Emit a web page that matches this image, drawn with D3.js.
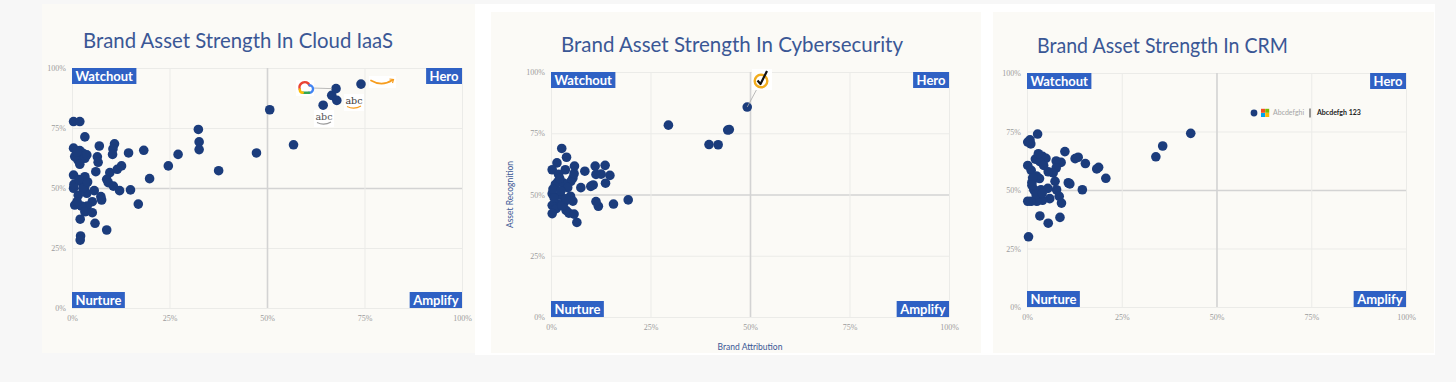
<!DOCTYPE html>
<html>
<head>
<meta charset="utf-8">
<script src="https://cdn.jsdelivr.net/npm/d3@7/dist/d3.min.js"></script>
<style>
body { margin: 0; background: #f7f7f7; }
</style>
</head>
<body>
<div id="chart"></div>
<script>
// 标题和刻度
const titles = ['Brand Asset Strength In Cloud IaaS', 'Brand Asset Strength In Cybersecurity', 'Brand Asset Strength In CRM'];
const tickValues = [0, 25, 50, 75, 100];
const tickLabels = ['0%', '25%', '50%', '75%', '100%'];
const quadrants = ['Watchout', 'Hero', 'Nurture', 'Amplify'];
const axisTitles = ['Brand Attribution', 'Asset Recognition'];
const legendTexts = ['Abcdefghi', 'Abcdefgh 123'];

// [brand attribution %, asset recognition %]
const cloudPoints = [
    [0.4, 77.7], [2, 77.7], [3.3, 71.3], [7, 67.5], [10.9, 68.4], [10.5, 66.3], [10.4, 64], [14.5, 64.6], [18.4, 65.7],
    [0.4, 66.6], [2, 65.6], [2.8, 64.5], [2.4, 63.1], [1.5, 61.7], [3.3, 62.4], [0.7, 63.1], [2, 59.9], [3.8, 63.8], [1.2, 65],
    [6.5, 63], [6.7, 60.7], [6.1, 56.8], [9.7, 56.4], [8.9, 53.6], [9.3, 52.2], [11.6, 57.8], [12.7, 59.2], [10.6, 50.8],
    [12.2, 48.9], [15, 49.2], [17, 43.3], [19.9, 53.9], [24.7, 59.2], [27.2, 64], [32.4, 74.4], [32.6, 69.2], [32.6, 66],
    [37.6, 57.2], [47.3, 64.6], [50.7, 82.6], [56.8, 68], [64.4, 84.5], [66.6, 88.6], [67.7, 91.4], [67.9, 86.5], [74.1, 93.3],
    [0.4, 55.4], [2.5, 52.6], [3.3, 54.7], [3.3, 50.6], [3.8, 47.8], [2.8, 49.9], [1.6, 47], [0.4, 49.9], [5.7, 48.9],
    [7.4, 46.4], [7.6, 45], [5.2, 44.3], [3.9, 42.5], [2.4, 42.5], [0.7, 42.9], [1.3, 44.3], [3.3, 40.1], [5.2, 39.7],
    [2.1, 37], [5.9, 35.3], [8.9, 32.5], [2.2, 30], [2.1, 28.3], [0.5, 51.5], [1.8, 53.5], [4, 52.5]
];
const cyberPoints = [
    [49.3, 85.7], [29.5, 78.3], [39.7, 70.4], [42, 70.3], [44.4, 76.3], [44.8, 76.5], [19.4, 47.8], [15.7, 46.1],
    [11.9, 45.2], [11.3, 47.1], [13.7, 54.6], [14.8, 57.8], [13.6, 61.9], [11.1, 61.6], [11.3, 58.2], [12.6, 58.3],
    [10.6, 53.9], [10, 53.3], [8.5, 59.5], [7.5, 52.8], [2.7, 68.8], [3.9, 65.2], [1.5, 62.9], [5.9, 61.6], [3.6, 60.1],
    [0.3, 60.1], [5.5, 56.7], [5, 55.4], [1.9, 58.2], [1.7, 55.1], [1.1, 54.1], [3.1, 54.7], [4.2, 52.8], [0.3, 50.3],
    [2.3, 49.7], [4.9, 49.3], [5.5, 47.3], [3.4, 46.9], [1.7, 46], [0.3, 45.6], [1.3, 44.2], [3.8, 43.5], [4.5, 42.4],
    [5.8, 42], [0.3, 42.2], [6.5, 38.6], [2.7, 45.5], [3.7, 48.2], [0.8, 48.6], [0.5, 52.2], [2.5, 51.5], [5.8, 58.5], [2.2, 56.5]
];
const crmPoints = [
    [43.2, 74.2], [35.8, 68.8], [34, 64.2], [20.8, 55], [18.9, 59.7], [18.4, 59], [15.4, 61.3], [13.5, 64], [12.7, 63.4],
    [14.6, 50.1], [10.9, 53.1], [11.3, 52.6], [10, 66.4], [9, 61.8], [7.7, 62.4], [7.7, 59.4], [6.9, 57.3], [7.4, 53.7],
    [7.8, 50.1], [8.5, 47.3], [9.1, 44.4], [2.8, 73.9], [0.8, 71.4], [1, 69.7], [0.2, 70.5], [4.1, 64.4], [5, 63.5],
    [2.2, 63.2], [3.4, 62.1], [5.6, 57.8], [3.3, 54.9], [1.3, 53.3], [0.2, 60.5], [1.1, 58.4], [1.8, 50.1], [3.7, 50.1],
    [5.5, 50.7], [6, 46.3], [4.1, 45.6], [2.6, 45.2], [1.1, 45.2], [0.2, 45.2], [3.4, 38.9], [5.6, 35.8], [8.7, 38.3],
    [0.4, 30], [2.4, 48.1], [4, 48.6], [2.5, 56], [1.5, 55.2], [4.4, 60.5], [1.3, 52], [3, 65.5]
];

const dotColor = '#1b3c7c';
const boxColor = '#2f61c4';
const titleColor = '#3a5795';

const svg = d3.select('#chart').append('svg')
    .attr('width', 1456)
    .attr('height', 382)
    .style('display', 'block');

//背景和卡片
svg.append('rect').attr('width', 1456).attr('height', 382).attr('fill', '#f7f7f7');
svg.append('rect').attr('x', 475).attr('y', 4).attr('width', 960).attr('height', 351).attr('fill', '#ffffff');
const cards = [[42, 4, 433, 349], [491, 12, 490, 341], [993, 12, 441, 341]];
svg.selectAll('rect.card').data(cards).join('rect')
    .attr('class', 'card')
    .attr('x', d => d[0]).attr('y', d => d[1])
    .attr('width', d => d[2]).attr('height', d => d[3])
    .attr('fill', '#fbfaf6');

const panels = [
    { title: titles[0], points: cloudPoints, left: 72, right: 462, top: 68, bottom: 308, titleX: 83, titleY: 48, titleW: 310 },
    { title: titles[1], points: cyberPoints, left: 551, right: 949, top: 72, bottom: 317, titleX: 561, titleY: 52, titleW: 342, axisTitles: true },
    { title: titles[2], points: crmPoints, left: 1027, right: 1406, top: 73, bottom: 307, titleX: 1037, titleY: 53, titleW: 251 }
];

function drawPanel(p) {
    const x = d3.scaleLinear().domain([0, 100]).range([p.left, p.right]);
    const y = d3.scaleLinear().domain([0, 100]).range([p.bottom, p.top]);
    const g = svg.append('g');

    g.append('text')
        .attr('x', p.titleX).attr('y', p.titleY)
        .attr('textLength', p.titleW).attr('lengthAdjust', 'spacingAndGlyphs')
        .style('font-family', 'Lato, "Noto Sans", sans-serif')
        .style('font-weight', 400)
        .style('font-size', '22px')
        .style('fill', titleColor)
        .text(p.title);

    //网格线 + 刻度
    const yAxis = g.append('g')
        .attr('transform', `translate(${p.left},0)`)
        .call(d3.axisLeft(y).tickValues(tickValues).tickFormat((d, i) => tickLabels[i])
            .tickSize(-(p.right - p.left)).tickPadding(6));
    const xAxis = g.append('g')
        .attr('transform', `translate(0,${p.bottom})`)
        .call(d3.axisBottom(x).tickValues(tickValues).tickFormat((d, i) => tickLabels[i])
            .tickSize(-(p.bottom - p.top)).tickPadding(7));
    [yAxis, xAxis].forEach(a => {
        a.select('.domain').remove();
        a.selectAll('line')
            .attr('stroke', d => d === 50 ? '#d3d3d3' : '#ebebe8')
            .attr('stroke-width', d => d === 50 ? 1.6 : 1);
        a.selectAll('text')
            .style('font-family', '"Liberation Serif", serif')
            .style('font-size', '8px')
            .style('fill', '#9c9c9c');
    });

    if (p.axisTitles) {
        g.append('text')
            .attr('x', (p.left + p.right) / 2).attr('y', p.bottom + 33)
            .attr('text-anchor', 'middle')
            .style('font-family', 'Lato, sans-serif').style('font-size', '8.5px')
            .style('fill', titleColor)
            .text(axisTitles[0]);
        g.append('text')
            .attr('transform', `translate(${p.left - 38},${y(50)}) rotate(-90)`)
            .attr('text-anchor', 'middle')
            .style('font-family', 'Lato, sans-serif').style('font-size', '8.5px')
            .style('fill', titleColor)
            .text(axisTitles[1]);
    }

    //象限标签
    quadrants.forEach((q, i) => {
        const qg = g.append('g');
        const rect = qg.append('rect').attr('fill', boxColor);
        const t = qg.append('text')
            .style('font-family', 'Lato, sans-serif')
            .style('font-weight', 700)
            .style('font-size', '13px')
            .style('fill', '#fff')
            .text(q);
        const w = t.node().getComputedTextLength() + 7;
        const h = 16;
        const bx = i % 2 === 0 ? p.left : p.right - w;
        const by = i < 2 ? p.top : p.bottom - h;
        rect.attr('x', bx).attr('y', by).attr('width', w).attr('height', h);
        t.attr('x', bx + 3.5).attr('y', by + 12.5);
    });

    g.selectAll('circle.dot').data(p.points).join('circle')
        .attr('class', 'dot')
        .attr('cx', d => x(d[0]))
        .attr('cy', d => y(d[1]))
        .attr('r', 4.8)
        .attr('fill', dotColor);

    return { x, y, g };
}

const scales = panels.map(drawPanel);

// Cloud IaaS 的品牌标记
(function () {
    const { x, y, g } = scales[0];
    const gx = 305, gy = 88;
    const dot = cloudPoints[43];
    g.append('line')
        .attr('x1', gx + 7).attr('y1', gy).attr('x2', x(dot[0]) - 4).attr('y2', y(dot[1]))
        .attr('stroke', '#aaa').attr('stroke-width', 0.8);
    g.append('rect').attr('x', gx - 9).attr('y', gy - 8).attr('width', 18).attr('height', 16).attr('fill', '#fff');
    const seg = [
        ['M299.8,89.5 A4.8,4.8 0 0 1 309.5,85.3', '#ea4335'],
        ['M309.5,85.3 A3.5,3.5 0 0 1 309,92.8', '#4285f4'],
        ['M309,92.8 L302.8,92.8', '#34a853'],
        ['M302.8,92.8 A3.2,3.2 0 0 1 299.8,89.5', '#fbbc05']
    ];
    seg.forEach(s => g.append('path').attr('d', s[0]).attr('fill', 'none')
        .attr('stroke', s[1]).attr('stroke-width', 2.4).attr('stroke-linecap', 'round'));

    // amazon smile
    g.append('rect').attr('x', 369).attr('y', 76).attr('width', 27).attr('height', 12).attr('fill', '#fff');
    g.append('path').attr('d', 'M371,80.5 Q382,87 392.5,80').attr('fill', 'none')
        .attr('stroke', '#f79d1e').attr('stroke-width', 1.7).attr('stroke-linecap', 'round');
    g.append('path').attr('d', 'M389.5,79 L393.5,79.5 L392.5,83').attr('fill', 'none')
        .attr('stroke', '#f79d1e').attr('stroke-width', 1.2);

    const abc = [[354, 104, '#3a3a3a', '#f79d1e'], [324, 120, '#555', '#9a9a9a']];
    abc.forEach(a => {
        g.append('rect').attr('x', a[0] - 10).attr('y', a[1] - 10).attr('width', 20).attr('height', 17).attr('fill', '#fff');
        g.append('text').attr('x', a[0]).attr('y', a[1])
            .attr('text-anchor', 'middle')
            .style('font-family', '"DejaVu Serif", serif').style('font-size', '9.5px')
            .style('fill', a[2]).text('abc');
        g.append('path').attr('d', `M${a[0] - 7},${a[1] + 2.5} Q${a[0]},${a[1] + 6} ${a[0] + 7},${a[1] + 2}`)
            .attr('fill', 'none').attr('stroke', a[3]).attr('stroke-width', 1.1);
    });
})();

// Cybersecurity 的对勾标记
(function () {
    const { x, y, g } = scales[1];
    const dot = cyberPoints[0];
    const cx = 761, cy = 81;
    g.append('line')
        .attr('x1', x(dot[0])).attr('y1', y(dot[1])).attr('x2', cx - 3).attr('y2', cy + 6)
        .attr('stroke', '#aaa').attr('stroke-width', 0.8);
    g.append('rect').attr('x', cx - 9).attr('y', cy - 12).attr('width', 20).attr('height', 21).attr('fill', '#fff');
    g.append('circle').attr('cx', cx).attr('cy', cy).attr('r', 6.3)
        .attr('fill', '#fff').attr('stroke', '#f2ad1f').attr('stroke-width', 2.4);
    g.append('path').attr('d', `M${cx - 3.5},${cy - 0.5} L${cx - 0.5},${cy + 3} L${cx + 6},${cy - 10}`)
        .attr('fill', 'none').attr('stroke', '#111').attr('stroke-width', 2.2)
        .attr('stroke-linejoin', 'round');
})();

// CRM 图例
(function () {
    const { g } = scales[2];
    const ly = 113;
    g.append('circle').attr('cx', 1254).attr('cy', ly).attr('r', 3.4).attr('fill', dotColor);
    const ms = [['#f25022', 0, 0], ['#7fba00', 4.2, 0], ['#00a4ef', 0, 4.2], ['#ffb900', 4.2, 4.2]];
    ms.forEach(m => g.append('rect').attr('x', 1261 + m[1]).attr('y', ly - 4.2 + m[2])
        .attr('width', 4).attr('height', 4).attr('fill', m[0]));
    g.append('text').attr('x', 1273).attr('y', ly + 2.2)
        .style('font-family', 'Lato, sans-serif').style('font-size', '7px').style('fill', '#a5a5a5')
        .text(legendTexts[0]);
    g.append('line').attr('x1', 1310).attr('x2', 1310).attr('y1', ly - 4.5).attr('y2', ly + 4.5)
        .attr('stroke', '#222').attr('stroke-width', 0.9);
    g.append('text').attr('x', 1317).attr('y', ly + 2.2)
        .style('font-family', 'Lato, sans-serif').style('font-size', '7px').style('font-weight', 700)
        .style('fill', '#222')
        .text(legendTexts[1]);
})();
</script>
</body>
</html>
